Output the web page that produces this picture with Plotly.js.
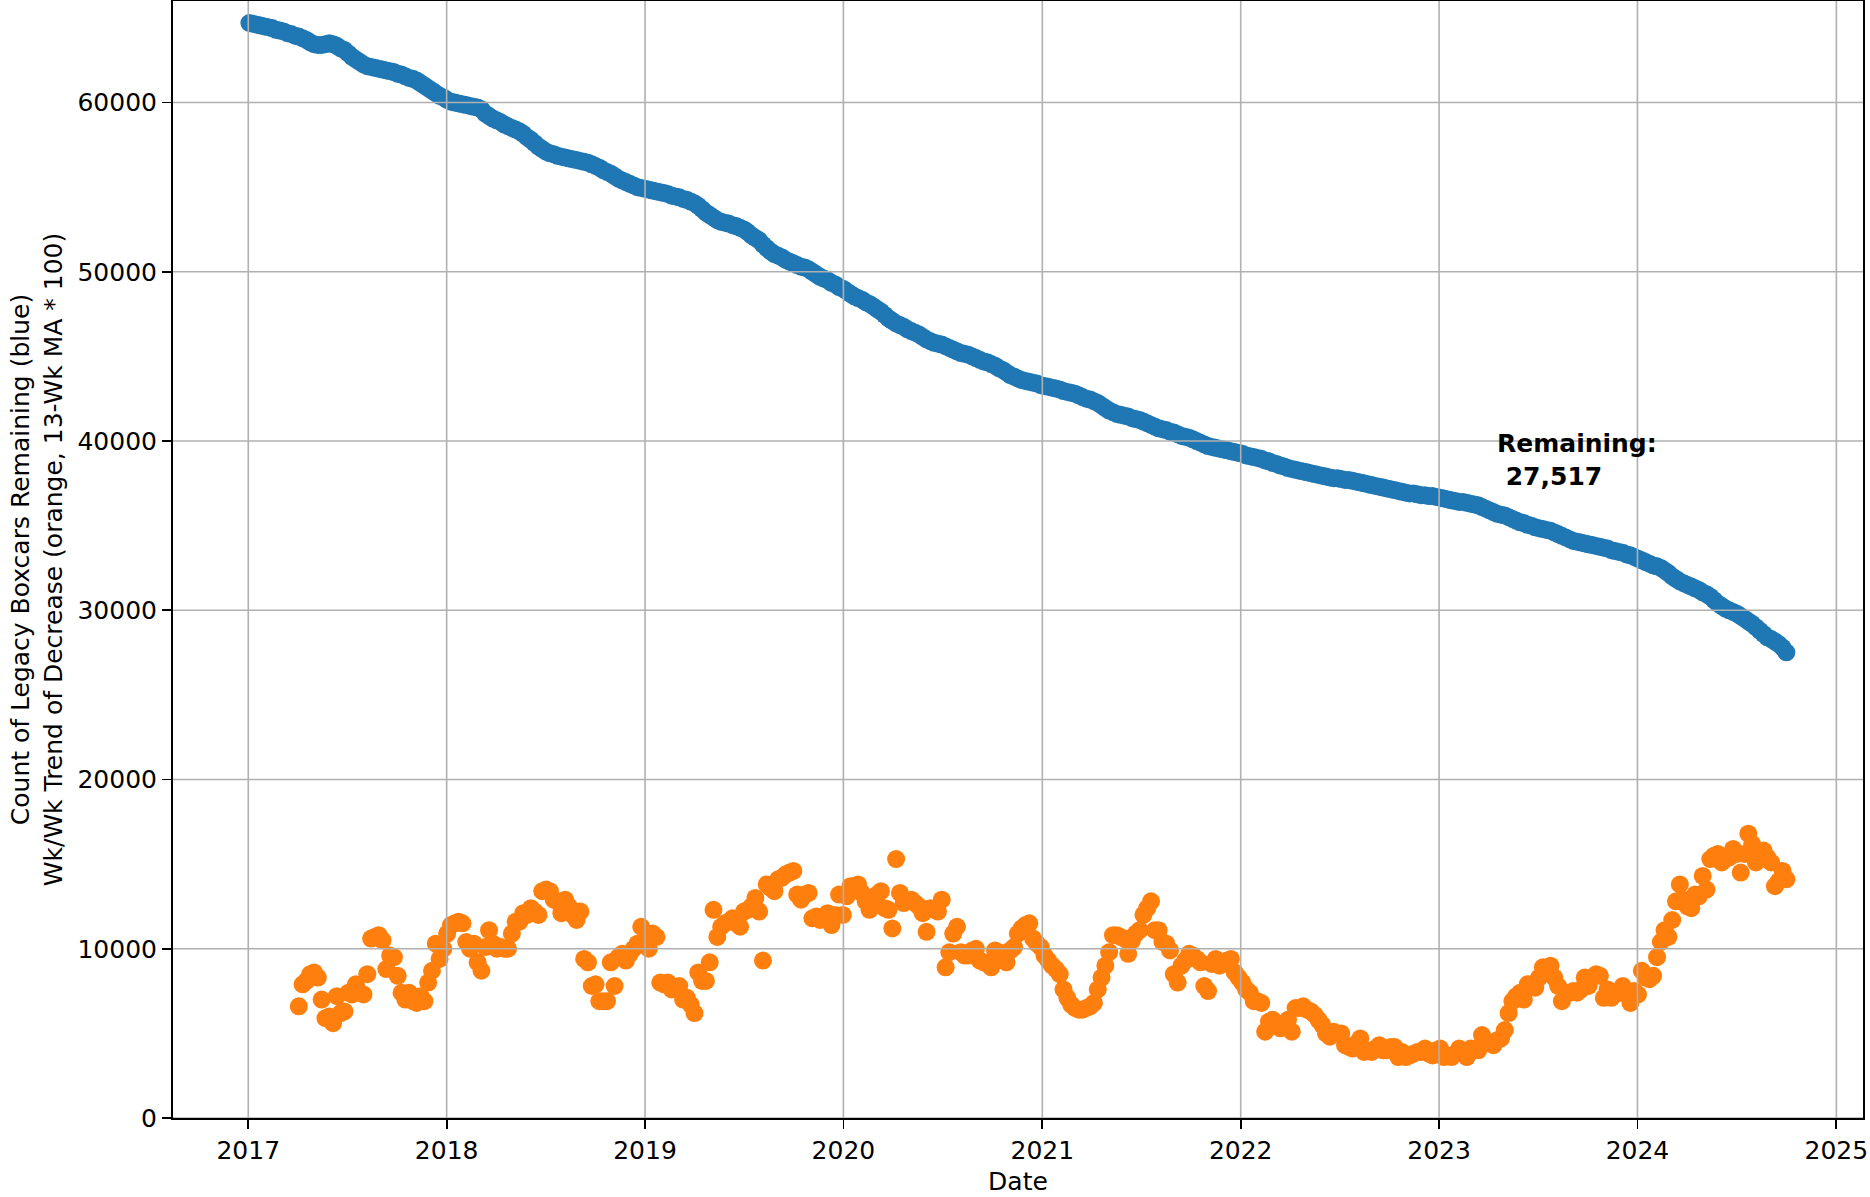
<!DOCTYPE html>
<html>
<head>
<meta charset="utf-8">
<script src="https://cdn.plot.ly/plotly-3.0.1.min.js"></script>
<style>html,body{margin:0;padding:0;background:#fff;}#chart{width:1870px;height:1197px;}</style>
</head>
<body>
<div id="chart"></div>
<script>
// Weekly observations, first week and count
const startDate = "2017-01-03";
const orangeStartWeek = 13;

// Count of legacy boxcars remaining (blue), one value per week
const remaining = [
64700,64650,64600,64550,64500,64450,64400,64300,64250,64200,64100,64050,63950,
63900,63800,63700,63550,63450,63400,63400,63450,63500,63450,63350,63200,63100,
62900,62700,62550,62400,62250,62150,62100,62050,62000,61950,61900,61850,61800,
61700,61650,61550,61450,61400,61300,61150,61000,60850,60700,60550,60400,60300,
60150,60050,60000,59950,59900,59850,59800,59750,59700,59600,59350,59200,59050,
58950,58850,58700,58600,58500,58400,58300,58150,57950,57800,57600,57400,57250,
57100,57000,56950,56850,56800,56750,56700,56650,56600,56550,56500,56450,56350,
56250,56150,56000,55900,55800,55650,55500,55400,55300,55200,55100,55000,54950,
54900,54850,54800,54750,54700,54650,54600,54500,54450,54400,54300,54250,54150,
54050,53900,53700,53500,53350,53200,53050,52950,52900,52850,52750,52700,52600,
52500,52350,52150,52000,51850,51600,51400,51200,51050,50950,50850,50700,50600,
50500,50400,50300,50250,50150,50000,49850,49700,49600,49500,49350,49250,49100,
49000,48850,48700,48550,48450,48350,48200,48100,47950,47800,47650,47450,47250,
47100,46950,46850,46750,46600,46500,46400,46300,46150,46000,45900,45800,45750,
45700,45600,45500,45400,45300,45200,45150,45100,45000,44900,44800,44700,44650,
44550,44450,44300,44200,44050,43900,43800,43700,43600,43550,43500,43450,43400,
43300,43250,43200,43150,43100,43050,42950,42900,42850,42800,42700,42600,42500,
42450,42350,42250,42100,41950,41800,41700,41600,41550,41500,41450,41350,41300,
41250,41150,41050,40950,40850,40750,40700,40650,40550,40500,40400,40300,40250,
40200,40100,40000,39900,39800,39700,39650,39600,39550,39500,39450,39400,39350,
39300,39250,39150,39100,39050,39000,38950,38850,38800,38700,38650,38550,38500,
38400,38350,38300,38250,38200,38150,38100,38050,38000,37950,37900,37850,37800,
37800,37750,37700,37700,37650,37600,37550,37500,37450,37400,37350,37300,37250,
37200,37150,37100,37050,37000,36950,36900,36900,36850,36800,36800,36750,36750,
36700,36650,36600,36550,36500,36450,36400,36400,36350,36300,36250,36200,36100,
36000,35900,35800,35700,35650,35600,35500,35400,35300,35200,35150,35050,35000,
34900,34850,34800,34750,34700,34600,34500,34400,34300,34200,34100,34050,34000,
33950,33900,33850,33800,33750,33700,33650,33550,33500,33450,33400,33300,33250,
33150,33050,32950,32850,32750,32650,32600,32500,32350,32200,32000,31850,31700,
31600,31500,31400,31300,31200,31050,30950,30800,30600,30400,30250,30100,30000,
29900,29800,29650,29500,29350,29200,29000,28800,28600,28400,28300,28150,28000,
27800,27517
];

// Wk/Wk trend of decrease (orange, 13-wk MA * 100), from week 13 on
const trend = [
6600,7900,8100,8500,8600,8300,7000,5900,6000,5600,
7200,6200,6300,7400,7300,7900,7400,7300,8500,10600,
10700,10800,10500,8800,9600,9500,8400,7400,7000,7400,
6900,6800,7200,6900,8000,8700,10300,9400,10000,10900,
11400,11500,11600,11500,10400,10000,10300,9200,8700,10100,
11100,10300,10000,10100,10000,10000,10900,11600,11600,12100,
12000,12400,12200,12000,13400,13500,13400,12900,12800,12100,
12900,12500,12000,11700,12200,9400,9200,7800,7900,6900,
6900,6900,9200,7800,9500,9700,9300,9700,10000,10300,
11300,10500,10000,10900,10700,8000,7900,8000,7600,7700,
7800,7000,7100,6700,6200,8600,8100,8100,9200,12300,
10700,11300,11500,11600,11800,11500,11300,12200,12300,12500,
13000,12200,9300,13800,13600,13400,14100,14200,14400,14500,
14600,13200,12900,13200,13300,11800,11900,11700,11900,12100,
11400,12000,13200,12000,13100,13700,13700,13800,13300,12800,
12300,12900,13200,13400,12400,12300,11200,15300,13300,12700,
12800,12900,12700,12500,12100,11000,12400,12300,12200,12900,
8900,9800,10900,11300,9800,9600,9600,9900,10000,9300,
9200,9100,8900,9900,9800,9500,9200,9900,10100,10900,
11200,11400,11500,10600,10300,10100,9600,9300,9000,8800,
8500,7600,7100,6700,6500,6400,6400,6500,6600,6800,
7600,8300,9000,9800,10800,10800,10700,10600,9700,10500,
10900,11100,12000,12400,12800,11100,11100,10400,10300,9900,
8500,8000,9000,9300,9700,9600,9400,9200,7800,7500,
9100,9400,9000,9100,9300,9400,8600,8300,8000,7600,
7400,6900,6900,6800,5100,5700,5800,5600,5300,5600,
5800,5100,6500,6500,6600,6400,6300,6100,5800,5500,
5000,4800,5100,5000,5000,4300,4200,4100,4400,4700,
3900,4000,3900,4100,4300,4000,4000,4200,4200,3600,
3900,3600,3700,3800,3900,3900,4100,3800,3700,4000,
4100,3600,3700,3600,3800,4100,3900,3600,4100,4100,
4000,4900,4500,4400,4300,4600,4700,5200,6200,6900,
7200,7400,7000,7900,7900,7700,8300,8900,8800,9000,
8300,7800,6900,7400,7400,7500,7400,7600,8300,7800,
8300,8500,8400,7100,7600,7100,7300,7400,7800,7300,
6800,7500,7300,8700,8300,8200,8400,9500,10400,11100,
10700,11700,12800,13800,12900,12500,12400,13200,13100,14300,
13500,15300,15500,15600,15100,15300,15400,15900,15600,14500,
15600,16800,16200,15100,15500,15800,15400,15100,13700,14000,
14600,14100
];

const yTicks = [0, 10000, 20000, 30000, 40000, 50000, 60000];
const xTickYears = ["2017","2018","2019","2020","2021","2022","2023","2024","2025"];

const annotationText = "Remaining:<br>&nbsp;27,517";
const yTitle = "Count of Legacy Boxcars Remaining (blue)<br>Wk/Wk Trend of Decrease (orange, 13-Wk MA * 100)";

// weekly dates
function weekDates(start, n) {
  const out = [];
  const t0 = Date.parse(start + "T00:00:00Z");
  for (let i = 0; i < n; i++) {
    out.push(new Date(t0 + i * 7 * 86400000).toISOString().slice(0, 10));
  }
  return out;
}
const dates = weekDates(startDate, remaining.length);
const trendDates = dates.slice(orangeStartWeek, orangeStartWeek + trend.length);

const FONT = "DejaVu Sans, sans-serif";
const FS = 25;
const GRID = "#b0b0b0";

const traces = [
  {type: "scatter", mode: "markers", x: dates, y: remaining,
   marker: {color: "#1f77b4", size: 18, line: {width: 0}}, hoverinfo: "x+y"},
  {type: "scatter", mode: "markers", x: trendDates, y: trend,
   marker: {color: "#ff7f0e", size: 18, line: {width: 0}}, hoverinfo: "x+y"}
];

// grid lines drawn above the markers, as in the source figure
const shapes = [];
yTicks.forEach(v => shapes.push({type: "line", layer: "above", xref: "paper", x0: 0, x1: 1,
  yref: "y", y0: v, y1: v, line: {color: GRID, width: 1.6}}));
xTickYears.forEach(yr => shapes.push({type: "line", layer: "above", yref: "paper", y0: 0, y1: 1,
  xref: "x", x0: yr + "-01-01", x1: yr + "-01-01", line: {color: GRID, width: 1.6}}));

const layout = {
  width: 1870, height: 1197,
  margin: {l: 173, r: 7, t: 1, b: 79, pad: 0},
  paper_bgcolor: "#fff", plot_bgcolor: "#fff",
  showlegend: false,
  font: {family: FONT, size: FS, color: "#000"},
  xaxis: {
    type: "date",
    range: ["2016-08-15 12:00", "2025-02-19"],
    tickvals: xTickYears.map(y => y + "-01-01"),
    ticktext: xTickYears,
    showgrid: false, zeroline: false,
    showline: true, mirror: true, linecolor: "#000", linewidth: 2,
    ticks: "outside", ticklen: 9, tickwidth: 1.8, tickcolor: "#000",
    tickfont: {family: FONT, size: FS, color: "#000"},
    title: {text: "Date", font: {family: FONT, size: FS, color: "#000"}, standoff: 8},
    automargin: false
  },
  yaxis: {
    range: [0, 66000],
    tickvals: yTicks,
    ticktext: yTicks.map(String),
    showgrid: false, zeroline: false,
    showline: true, mirror: true, linecolor: "#000", linewidth: 2,
    ticks: "outside", ticklen: 9, tickwidth: 1.8, tickcolor: "#000",
    tickfont: {family: FONT, size: FS, color: "#000"},
    title: {text: yTitle, font: {family: FONT, size: FS, color: "#000"}, standoff: 8},
    automargin: false
  },
  shapes: shapes,
  annotations: [{
    xref: "x", yref: "y", x: "2023-04-14", y: 38900,
    xanchor: "left", yanchor: "middle", align: "left", showarrow: false,
    text: "<b>" + annotationText + "</b>",
    font: {family: FONT, size: FS, color: "#000"}
  }]
};

Plotly.newPlot("chart", traces, layout, {staticPlot: true, displayModeBar: false});
</script>
</body>
</html>
